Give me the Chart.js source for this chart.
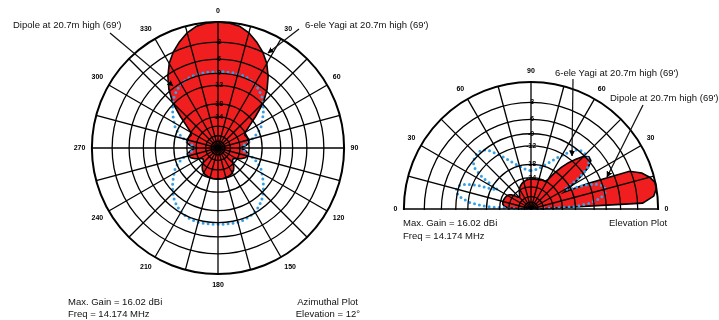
<!DOCTYPE html>
<html>
<head>
<meta charset="utf-8">
<script src="https://cdn.jsdelivr.net/npm/chart.js@4.4.1/dist/chart.umd.min.js"></script>
<style>
  html, body { margin: 0; padding: 0; background: #fff; }
  body { width: 719px; height: 320px; position: relative; overflow: hidden; font-family: Arial, "Liberation Sans", sans-serif; }
  .box { position: absolute; }
  .note { position: absolute; font-size: 9.5px; line-height: 10px; color: #111; white-space: nowrap; }
  .right { text-align: right; }
</style>
</head>
<body>
<div class="box" style="left:33px; top:7px; width:370px; height:282px;"><canvas id="azChart"></canvas></div>
<div class="box" style="left:376px; top:67px; width:310px; height:284px;"><canvas id="elChart"></canvas></div>

<svg width="719" height="320" style="position:absolute; left:0; top:0;">
  <defs>
    <marker id="tip" viewBox="0 0 6 6" refX="5.5" refY="3" markerWidth="5" markerHeight="5" orient="auto">
      <path d="M0,0 L6,3 L0,6 z" fill="#000"/>
    </marker>
  </defs>
  <g stroke="#111" stroke-width="1.2" marker-end="url(#tip)">
    <line x1="110" y1="33" x2="173" y2="86"/>
    <line x1="299" y1="29" x2="268" y2="53"/>
    <line x1="573" y1="79" x2="572" y2="156"/>
    <line x1="643" y1="105" x2="607" y2="177"/>
  </g>
</svg>

<div class="note" style="left:13px; top:20px;">Dipole at 20.7m high (69')</div>
<div class="note" style="left:305px; top:20px;">6-ele Yagi at 20.7m high (69')</div>
<div class="note" style="left:68px; top:297px;">Max. Gain = 16.02 dBi</div>
<div class="note" style="left:68px; top:309px;">Freq = 14.174 MHz</div>
<div class="note right" style="left:260px; width:98px; top:297px;">Azimuthal Plot</div>
<div class="note right" style="left:260px; width:100px; top:309px;">Elevation = 12°</div>

<div class="note" style="left:555px; top:68px;">6-ele Yagi at 20.7m high (69')</div>
<div class="note" style="left:610px; top:93px;">Dipole at 20.7m high (69')</div>
<div class="note" style="left:403px; top:218px;">Max. Gain = 16.02 dBi</div>
<div class="note" style="left:403px; top:231px;">Freq = 14.174 MHz</div>
<div class="note" style="left:609px; top:218px;">Elevation Plot</div>

<script>
// gains in dB relative to the 16.02 dBi maximum, ARRL log scale rings
const ringDb = [-50, -40, -30, -24, -18, -12, -9, -6, -3, 0];
const ringText = ['', '', '', '-24', '-18', '-12', '-9', '-6', '-3', ''];

// azimuth, every 5 degrees from 0 to 355
const azAngles = Array.from({ length: 72 }, (_, i) => i * 5);
const yagiAz = [
  0, -0.08, -0.32, -0.95, -1.9, -3.0, -4.4, -6.3, -8.6, -11.6, -16.2, -20.5,
  -23.8, -24.8, -24.0, -23.4, -23.6, -25.8, -30, -26.2, -24.4, -24.3, -25.3, -27.5,
  -30.5, -32.8, -32.5, -30.6, -28, -26.4, -25.4, -24.8, -24.5, -24.3, -24.1, -24.0,
  -24.0, -24.0, -24.1, -24.3, -24.5, -24.8, -25.4, -26.4, -28, -30.6, -32.5, -32.8,
  -30.5, -27.5, -25.3, -24.3, -24.4, -26.2, -30, -25.8, -23.6, -23.4, -24.0, -24.8,
  -23.8, -20.5, -16.2, -11.6, -8.6, -6.3, -4.4, -3.0, -1.9, -0.95, -0.32, -0.08
];
const dipoleAz = [
  -8.65, -8.6, -8.55, -8.5, -8.6, -8.8, -9.2, -9.8, -10.6, -11.7, -12.9, -14.3,
  -15.6, -16.9, -19.0, -21.8, -25, -28, -29.5, -28, -25, -21.8, -19.0, -16.9,
  -15.6, -14.3, -12.9, -11.7, -10.6, -9.8, -9.2, -8.8, -8.6, -8.5, -8.55, -8.6,
  -8.65, -8.6, -8.55, -8.5, -8.6, -8.8, -9.2, -9.8, -10.6, -11.7, -12.9, -14.3,
  -15.6, -16.9, -19.0, -21.8, -25, -28, -29.5, -28, -25, -21.8, -19.0, -16.9,
  -15.6, -14.3, -12.9, -11.7, -10.6, -9.8, -9.2, -8.8, -8.6, -8.5, -8.55, -8.6
];

// elevation, every 3 degrees from 0 (forward) to 180 (backward)
const elevAngles = Array.from({ length: 61 }, (_, i) => i * 3);
const yagiElev = [
  -50, -2.2, -0.5, -0.05, 0, -0.6, -1.5, -3.2, -12, -21, -17, -13,
  -10, -8.6, -8.4, -9.2, -11, -13, -15.5, -18.7, -22.5, -24.3, -24.2, -24.2,
  -24.4, -24.6, -24.7, -24.8, -24.8, -24.8, -24.8, -24.8, -25, -25.2, -25.5, -25.8,
  -26.3, -26.8, -27.5, -28.3, -29.2, -30.5, -32, -33.5, -34.5, -35, -34, -31,
  -28.5, -27.2, -26.5, -26.1, -25.8, -25.6, -25.4, -25.3, -25.4, -25.7, -26.6, -29,
  -50
];
const dipoleElev = [
  -50, -18, -12.5, -10.1, -8.9, -8.55, -8.9, -10.4, -13.3, -18, -20.5, -13.5,
  -10.3, -9.2, -8.8, -8.55, -8.5, -8.8, -9.6, -11, -12.4, -13.6, -15, -16.2,
  -17.2, -18.1, -19, -19.6, -20.1, -20.4, -20.5, -20.4, -20.1, -19.6, -19, -18.1,
  -17.2, -16.2, -15, -13.6, -12.4, -11, -9.6, -8.8, -8.5, -8.55, -8.8, -9.2,
  -10.3, -13.5, -20.5, -18, -13.3, -10.4, -8.9, -8.55, -8.9, -10.1, -12.5, -18,
  -50
];

const RED = '#f01e1e';
const BLUE = '#36a0e6';
const FONT = 'Arial, "Liberation Sans", sans-serif';

// ARRL scale: radius shrinks by 0.89 for every 2 dB
const arrl = db => Math.pow(0.89, -db / 2);
const ringTicks = [0, ...ringDb.map(arrl)];
const ringLabels = ['', ...ringText];

// elevation plot uses the upper half of a full circle, 3 degree slots clockwise from the top
const elevSlots = Array.from({ length: 120 }, (_, i) =>
  i <= 30 ? 90 - 3 * i : (i >= 90 ? 90 + 3 * (120 - i) : null));
const onElev = series => elevSlots.map(e => e === null ? 0 : arrl(series[elevAngles.indexOf(e)]));

function polarOptions(labelText, spoke) {
  return {
    responsive: true,
    maintainAspectRatio: false,
    animation: false,
    events: [],
    plugins: { legend: { display: false }, tooltip: { enabled: false } },
    elements: { point: { radius: 0, hoverRadius: 0 }, line: { tension: 0 } },
    scales: {
      r: {
        min: 0,
        max: 1,
        startAngle: 0,
        afterBuildTicks: axis => { axis.ticks = ringTicks.map(v => ({ value: v })); },
        ticks: {
          z: 2,
          showLabelBackdrop: false,
          color: '#000',
          font: { size: 7, weight: 'bold', family: FONT },
          callback: (v, i) => ringLabels[i]
        },
        grid: {
          z: 1,
          circular: true,
          color: '#000',
          lineWidth: c => c.index === ringTicks.length - 1 ? 2 : 1.3
        },
        angleLines: { color: '#000', lineWidth: c => spoke(c.index) ? 1.3 : 0 },
        pointLabels: {
          color: '#000',
          padding: 1,
          font: { size: 7, weight: 'bold', family: FONT },
          callback: labelText
        }
      }
    }
  };
}

function datasets(dipole, yagi) {
  return [
    {
      label: 'Dipole at 20.7m high (69\')',
      data: dipole,
      fill: false,
      borderColor: BLUE,
      borderWidth: 3,
      borderDash: [0, 5],
      borderCapStyle: 'round'
    },
    {
      label: '6-ele Yagi at 20.7m high (69\')',
      data: yagi,
      fill: 'origin',
      backgroundColor: RED,
      borderColor: '#000',
      borderWidth: 1.6
    }
  ];
}

new Chart(document.getElementById('azChart'), {
  type: 'radar',
  data: { labels: azAngles, datasets: datasets(dipoleAz.map(arrl), yagiAz.map(arrl)) },
  options: polarOptions(a => a % 30 === 0 ? String(a) : '', i => azAngles[i] % 15 === 0)
});

// keep only the sky half of the elevation circle (plus the two horizon labels)
const skyOnly = {
  id: 'skyOnly',
  beforeDraw(chart) {
    const s = chart.scales.r;
    const ctx = chart.ctx;
    const edge = s.drawingArea + 2;
    ctx.save();
    ctx.beginPath();
    ctx.rect(0, 0, chart.width, s.yCenter + 1);
    ctx.rect(0, s.yCenter, s.xCenter - edge, chart.height);
    ctx.rect(s.xCenter + edge, s.yCenter, chart.width, chart.height);
    ctx.clip();
  },
  afterDraw(chart) {
    chart.ctx.restore();
  }
};

new Chart(document.getElementById('elChart'), {
  type: 'radar',
  data: { labels: elevSlots, datasets: datasets(onElev(dipoleElev), onElev(yagiElev)) },
  options: polarOptions(
    e => e === null || e % 30 !== 0 ? '' : String(e <= 90 ? e : 180 - e),
    i => elevSlots[i] !== null && elevSlots[i] % 15 === 0
  ),
  plugins: [skyOnly]
});
</script>
</body>
</html>
